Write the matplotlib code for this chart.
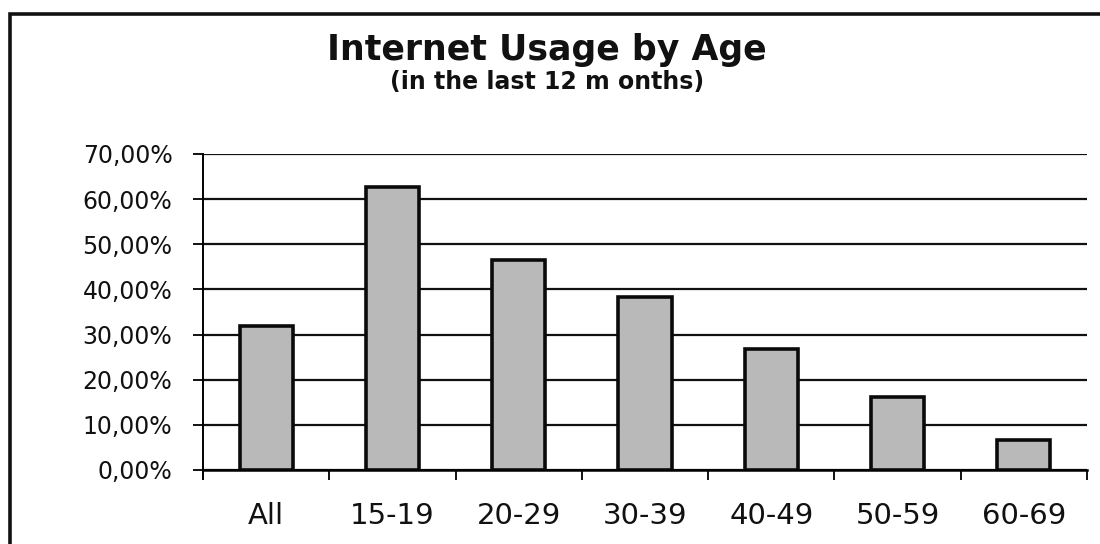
import matplotlib
matplotlib.use("Agg")
import matplotlib.pyplot as plt
from matplotlib.patches import Rectangle
from matplotlib.ticker import FixedLocator, FuncFormatter

# Share of people who used the internet in the last 12 months, by age group (%)
categories = ["All", "15-19", "20-29", "30-39", "40-49", "50-59", "60-69"]
usage_pct = [31.8, 62.7, 46.5, 38.4, 26.8, 16.1, 6.7]
y_ticks = [0, 10, 20, 30, 40, 50, 60, 70]

fig = plt.figure(figsize=(11, 5.44), dpi=100)
fig.patch.set_facecolor("white")

# outer chart frame (runs off the right and bottom of the page)
fig.patches.append(Rectangle((10 / 1100, -0.2), 1.2, 1 - 14 / 544 + 0.2,
                             transform=fig.transFigure, fill=False,
                             edgecolor="#111111", linewidth=2.6, zorder=0))

ax = fig.add_axes([203 / 1100, 1 - 470 / 544, (1087 - 203) / 1100, (470 - 154) / 544])
x = list(range(len(categories)))
ax.bar(x, usage_pct, width=0.42, color="#b9b9b9", edgecolor="#0a0a0a",
       linewidth=2.6, zorder=3)

ax.set_xlim(-0.5, len(categories) - 0.5)
ax.set_ylim(0, 70)

# horizontal gridlines
ax.set_yticks(y_ticks)
ax.yaxis.grid(True, color="#111111", linewidth=1.6)
ax.set_axisbelow(True)
ax.yaxis.set_major_formatter(FuncFormatter(lambda v, p: f"{v:.2f}".replace(".", ",") + "%"))
ax.tick_params(axis="y", length=7, width=1.4, pad=15, labelsize=17, color="#111111")
for lab in ax.get_yticklabels():
    lab.set_family("DejaVu Sans")
    lab.set_color("#111111")

# category labels centred, tick marks on the boundaries between groups
ax.set_xticks(x)
ax.set_xticklabels(categories, family="DejaVu Sans", fontsize=21, color="#111111")
ax.tick_params(axis="x", which="major", length=0, pad=23)
ax.xaxis.set_minor_locator(FixedLocator([i + 0.5 for i in range(len(categories))]))
ax.tick_params(axis="x", which="minor", length=7, width=1.4, color="#111111")

for side in ("top", "right"):
    ax.spines[side].set_visible(False)
ax.spines["left"].set_linewidth(1.4)
ax.spines["bottom"].set_linewidth(1.8)
ax.spines["left"].set_bounds(-2, 70)
ax.spines["left"].set_clip_on(False)

fig.text(0.497, 0.908, "Internet Usage by Age", ha="center", va="center",
         family="DejaVu Sans", fontsize=25, fontweight="bold", color="#111111")
fig.text(0.497, 0.849, "(in the last 12 m onths)", ha="center", va="center",
         family="DejaVu Sans", fontsize=17, fontweight="bold", color="#111111")

fig.savefig("out.png", dpi=100, facecolor="white")
